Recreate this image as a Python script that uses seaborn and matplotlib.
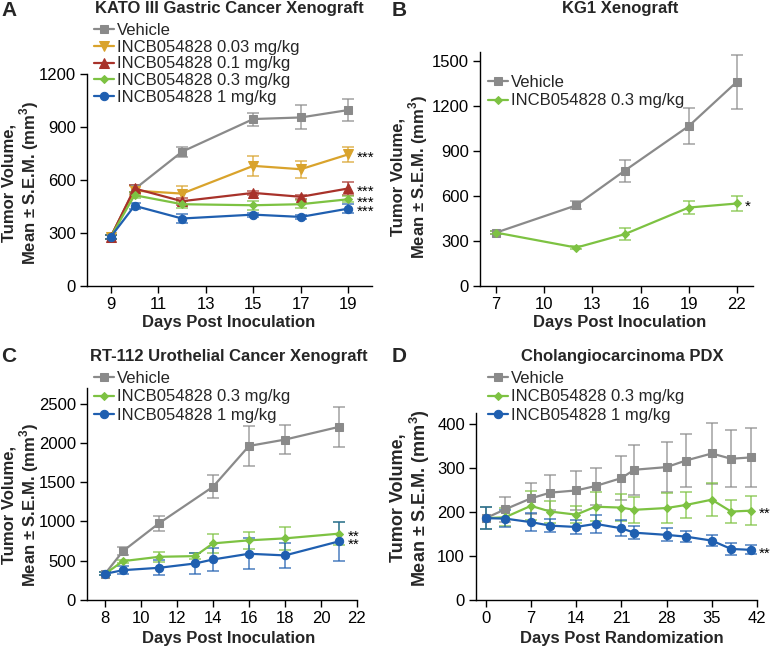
import numpy as np
import pandas as pd
import matplotlib
matplotlib.use("Agg")
import matplotlib.pyplot as plt
import seaborn as sns

sns.set_theme(style="ticks")
plt.rcParams['font.family'] = ['Liberation Sans', 'DejaVu Sans']
plt.rcParams['mathtext.fontset'] = 'custom'
plt.rcParams['mathtext.rm'] = 'Liberation Sans'
plt.rcParams['mathtext.bf'] = 'Liberation Sans:bold'

# ---------------- data ----------------
# Panel A: KATO III
a_days = [9, 10, 12, 15, 17, 19]
a_veh = [278, 548, 760, 945, 954, 996]
a_veh_err = [10, 25, 28, 37, 68, 63]
a_003 = [278, 540, 523, 680, 661, 745]
a_003_err = [10, 25, 42, 57, 47, 44]
a_01 = [278, 552, 480, 527, 505, 552]
a_01_err = [10, 20, 20, 12, 12, 35]
a_03 = [278, 514, 463, 457, 463, 491]
a_03_err = [10, 18, 20, 25, 22, 18]
a_1 = [278, 454, 382, 404, 391, 438]
a_1_err = [10, 18, 25, 12, 10, 25]
a_stars = ["***", "***", "***", "***"]

# Panel B: KG1
b_days = [7, 12, 15, 19, 22]
b_veh = [356, 538, 768, 1066, 1362]
b_veh_err = [10, 27, 73, 122, 180]
b_03 = [356, 256, 345, 523, 550]
b_03_err = [10, 8, 39, 45, 53]
b_stars = ["*"]

# Panel C: RT-112
c_veh_days = [8, 9, 11, 14, 16, 18, 21]
c_veh = [333, 623, 977, 1442, 1962, 2043, 2205]
c_veh_err = [20, 50, 95, 145, 256, 185, 256]
c_trt_days = [8, 9, 11, 13, 14, 16, 18, 21]
c_03 = [333, 495, 550, 559, 721, 760, 785, 845]
c_03_err = [20, 20, 64, 40, 117, 107, 143, 150]
c_1 = [333, 380, 410, 465, 516, 589, 568, 747]
c_1_err = [20, 50, 95, 130, 145, 200, 160, 245]
c_stars = ["**", "**"]

# Panel D: Cholangiocarcinoma PDX
d_days = [0, 3, 7, 10, 14, 17, 21, 23, 28, 31, 35, 38, 41]
d_veh = [186, 206, 231, 244, 249, 259, 277, 296, 302, 317, 333, 321, 324]
d_veh_err = [25, 28, 36, 39, 45, 42, 50, 57, 57, 61, 70, 65, 68]
d_03 = [186, 188, 214, 201, 194, 212, 210, 205, 209, 216, 228, 201, 203]
d_03_err = [25, 20, 33, 25, 20, 33, 30, 30, 35, 30, 38, 27, 33]
d_1 = [186, 185, 177, 169, 166, 173, 163, 153, 148, 144, 135, 116, 114]
d_1_err = [25, 20, 20, 15, 15, 20, 18, 15, 15, 13, 12, 13, 10]
d_stars = ["**", "**"]

lab_veh = "Vehicle"
lab_003 = "INCB054828 0.03 mg/kg"
lab_01 = "INCB054828 0.1 mg/kg"
lab_03 = "INCB054828 0.3 mg/kg"
lab_1 = "INCB054828 1 mg/kg"

# ---------------- styles ----------------
GRAY = "#8a8a8a"
GOLD = "#d9a32c"
RED = "#a8322a"
GREEN = "#7dc242"
BLUE = "#1f5fb0"
STY = {
    lab_veh: dict(color=GRAY, marker="s", ms=6),
    lab_003: dict(color=GOLD, marker="v", ms=6.5),
    lab_01: dict(color=RED, marker="^", ms=6.5),
    lab_03: dict(color=GREEN, marker="D", ms=4),
    lab_1: dict(color=BLUE, marker="o", ms=6),
}
FS = 12

W, H = 773, 647
fig = plt.figure(figsize=(W / 100, H / 100), dpi=100)


def px_axes(l, t, r, b):
    return fig.add_axes([l / W, 1 - b / H, (r - l) / W, (b - t) / H])


def draw(ax, series):
    for lab, x, y, e in series:
        s = STY[lab]
        df = pd.DataFrame({"day": x, "vol": y})
        ax.errorbar(x, y, yerr=e, fmt="none", ecolor=s["color"], alpha=0.8,
                    elinewidth=1.1, capsize=4.5, capthick=1.1, zorder=2)
        sns.lineplot(data=df, x="day", y="vol", ax=ax, color=s["color"],
                     marker=s["marker"], markersize=s["ms"],
                     markeredgecolor=s["color"], markerfacecolor=s["color"],
                     linewidth=1.6, label=lab, zorder=3, legend=False)


def style(ax, xlim, xticks, ylim, yticks):
    ax.set_xlim(*xlim)
    ax.set_ylim(*ylim)
    ax.set_xticks(xticks)
    ax.set_yticks(yticks)
    ax.set_xlabel("")
    ax.set_ylabel("")
    for s in ["top", "right"]:
        ax.spines[s].set_visible(False)
    for s in ["left", "bottom"]:
        ax.spines[s].set_color("black")
        ax.spines[s].set_linewidth(1.0)
    ax.tick_params(axis="both", direction="out", length=5, width=1,
                   color="black", labelsize=FS, labelcolor="black", pad=3)


def leg(ax, left_px, top_px, spacing):
    ax.legend(loc="upper left", bbox_to_anchor=(left_px / W, 1 - top_px / H),
              bbox_transform=fig.transFigure, frameon=False, fontsize=FS,
              handlelength=1.2, handletextpad=0.2, labelspacing=spacing,
              borderpad=0, borderaxespad=0)


def stars(ax, x, ys, txts, dx=6, dy=-2.5):
    for y, t in zip(ys, txts):
        ax.annotate(t, (x, y), xytext=(dx, dy), textcoords="offset points",
                    ha="left", va="center", fontsize=11, color="black")


ylab = "Tumor Volume,\nMean \u00b1 S.E.M. (mm$^\\mathbf{3}$)"


def texts(letter, lx, ly, title, tx, ty, ylx, yly, xlab, xlx, xly, yfs=FS):
    fig.text(lx / W, 1 - ly / H, letter, fontsize=15, fontweight="bold",
             ha="left", va="center")
    fig.text(tx / W, 1 - ty / H, title, fontsize=FS, fontweight="bold",
             ha="center", va="center")
    fig.text(ylx / W, 1 - yly / H, ylab, fontsize=yfs, fontweight="bold",
             rotation=90, ha="center", va="center", multialignment="center",
             linespacing=1.05)
    fig.text(xlx / W, 1 - xly / H, xlab, fontsize=FS, fontweight="bold",
             ha="center", va="center")


# ---- Panel A ----
axA = px_axes(87, 74, 372, 286)
draw(axA, [(lab_veh, a_days, a_veh, a_veh_err),
           (lab_003, a_days, a_003, a_003_err),
           (lab_01, a_days, a_01, a_01_err),
           (lab_03, a_days, a_03, a_03_err),
           (lab_1, a_days, a_1, a_1_err)])
style(axA, (8, 20), [9, 11, 13, 15, 17, 19], (0, 1200), [0, 300, 600, 900, 1200])
leg(axA, 94, 23, 0.1)
stars(axA, a_days[-1], [a_003[-1], a_01[-1], a_03[-1], a_1[-1]], a_stars)
texts("A", 1, 10, "KATO III Gastric Cancer Xenograft", 229, 8,
      21, 183, "Days Post Inoculation", 229, 323)

# ---- Panel B ----
axB = px_axes(480, 52, 753, 286)
draw(axB, [(lab_veh, b_days, b_veh, b_veh_err),
           (lab_03, b_days, b_03, b_03_err)])
style(axB, (6, 23), [7, 10, 13, 16, 19, 22], (0, 1560), [0, 300, 600, 900, 1200, 1500])
leg(axB, 488, 75, 0.2)
stars(axB, b_days[-1], [b_03[-1]], b_stars)
texts("B", 392, 10, "KG1 Xenograft", 620, 8,
      410, 177, "Days Post Inoculation", 620, 323)

# ---- Panel C ----
axC = px_axes(87, 388, 357, 600)
draw(axC, [(lab_veh, c_veh_days, c_veh, c_veh_err),
           (lab_03, c_trt_days, c_03, c_03_err),
           (lab_1, c_trt_days, c_1, c_1_err)])
style(axC, (7, 22), [8, 10, 12, 14, 16, 18, 20, 22], (0, 2700), [0, 500, 1000, 1500, 2000, 2500])
leg(axC, 94, 371, 0.2)
stars(axC, c_trt_days[-1], [c_03[-1], c_1[-1]], c_stars)
texts("C", 1, 357, "RT-112 Urothelial Cancer Xenograft", 229, 357,
      21, 505, "Days Post Inoculation", 229, 638)

# ---- Panel D ----
axD = px_axes(476, 413, 757, 600)
draw(axD, [(lab_veh, d_days, d_veh, d_veh_err),
           (lab_03, d_days, d_03, d_03_err),
           (lab_1, d_days, d_1, d_1_err)])
style(axD, (-1.5, 42), [0, 7, 14, 21, 28, 35, 42], (0, 425), [0, 100, 200, 300, 400])
leg(axD, 488, 371, 0.2)
stars(axD, d_days[-1], [d_03[-1], d_1[-1]], d_stars)
texts("D", 392, 357, "Cholangiocarcinoma PDX", 622, 357,
      411, 498, "Days Post Randomization", 622, 638, yfs=13)

fig.savefig("out.png", dpi=100)
